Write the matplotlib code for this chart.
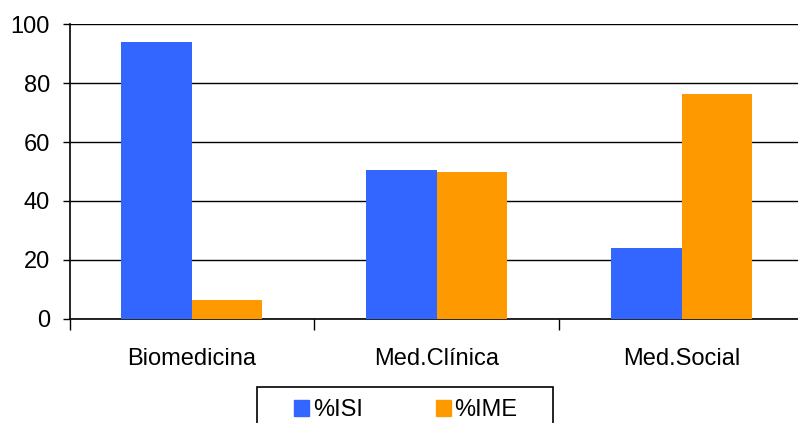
import matplotlib
matplotlib.use("Agg")
import matplotlib.pyplot as plt
import numpy as np
from matplotlib.patches import Patch, Rectangle

categories = ["Biomedicina", "Med.Clínica", "Med.Social"]
isi = [94.0, 50.5, 24.0]
ime = [6.3, 49.8, 76.4]
series_names = ["%ISI", "%IME"]
yticks = [0, 20, 40, 60, 80, 100]

plt.rcParams['font.family'] = ['Liberation Sans', 'DejaVu Sans']
FS = 17

fig = plt.figure(figsize=(7.98, 4.23), dpi=100)
ax = fig.add_axes([69.5/798, 1-318.5/423, (804-69.5)/798, (318.5-24.5)/423])

x = np.arange(len(categories))
w = 0.288
ax.bar(x - w/2, isi, width=w, color="#3366FF", zorder=3)
ax.bar(x + w/2, ime, width=w, color="#FF9900", zorder=3)

ax.set_xlim(-0.5, 2.5)
ax.set_ylim(0, 100)
ax.set_yticks(yticks)
ax.yaxis.grid(True, color="black", linewidth=1.0, zorder=0)
ax.set_axisbelow(True)
ax.tick_params(axis='y', length=5, width=1, labelsize=FS, colors='black', pad=9)

ax.set_xticks([-0.5, 0.5, 1.5, 2.5])
ax.set_xticklabels([])
ax.tick_params(axis='x', which='major', length=8, width=1)
ax.set_xticks(x, minor=True)
ax.set_xticklabels(categories, minor=True)
ax.tick_params(axis='x', which='minor', length=0, labelsize=FS, pad=21)

for s in ['top', 'right']:
    ax.spines[s].set_visible(False)
ax.spines['left'].set_linewidth(1.2)
ax.spines['bottom'].set_linewidth(1.2)

# legend frame
fig.patches.append(Rectangle((257/798, -0.05), (553-257)/798, 0.05 + 1-387/423,
                             transform=fig.transFigure, fill=False,
                             edgecolor='black', linewidth=1.2))

handles = [Patch(color="#3366FF"), Patch(color="#FF9900")]
leg = fig.legend(handles, series_names, loc='center left',
                 bbox_to_anchor=(294/798, 1-410/423),
                 ncol=2, frameon=False, fontsize=FS, handlelength=0.64,
                 handleheight=0.64, handletextpad=0.15, borderaxespad=0,
                 borderpad=0, columnspacing=3.1)

fig.savefig("out.png", dpi=100)
